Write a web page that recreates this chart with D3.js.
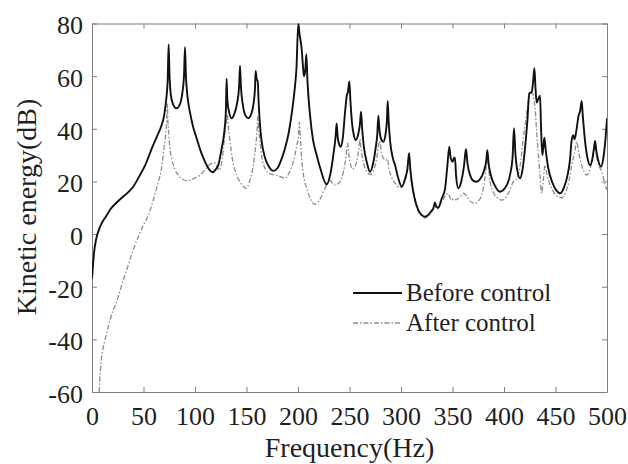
<!DOCTYPE html>
<html><head><meta charset="utf-8">
<script src="https://cdn.jsdelivr.net/npm/d3@7"></script>
<style>body{margin:0;background:#fff}svg{display:block}text{font-family:"Liberation Serif","Times New Roman",serif;fill:#1f1f1f}</style>
</head><body><svg id="c" width="628" height="464"></svg>
<script>
const xTicks=[0,50,100,150,200,250,300,350,400,450,500];
const yTicks=[-60,-40,-20,0,20,40,60,80];
const seriesNames=["Before control","After control"];
const beforeF=[0,2,4,7,10,14,18,24,30,36,40,46,52,58,63,67.6,70,72,73.5,74.4,75.3,76.5,78.5,82,85.5,87.5,89.3,90.3,91.2,92.5,95,98,101.6,105.5,109.7,113,117.2,120,122.6,125.9,128.5,130,130.7,131.4,133,135.6,138,141,142.8,143.7,144.6,146.5,149,151.8,154.5,157,158.2,158.9,159.8,160.9,161.8,163,164.8,168,172,176,180,184,187.4,191,194,196.5,198.5,200.3,201.5,203.5,205.2,205.8,207,208.1,209.2,211.7,214.5,218.1,222,227.8,231.5,234.3,236.5,237.5,238.5,240,241.7,243.5,245.6,247.5,248.5,249.8,251,252.5,254,256,258.5,260.2,261.2,262.3,264,267,269.9,273,275.5,277,278,279,280.8,282.8,285,286.3,287.1,288,289.5,292,294.2,297.5,300.7,304,306.3,307.8,309,310.4,313,316.8,320,323.3,327,330,331.4,333,334.2,336.2,339.5,342.7,344.8,346.9,348.2,350.2,351.5,352.4,353.5,355.6,358.5,361.2,363.1,364.5,367,370,373.5,377,380.5,382.8,383.8,385,387.5,391,396.1,401,405.8,408.3,409.7,411,413,415.5,418,420.4,422.5,424.6,426.9,428.3,429.5,430.5,431.7,433,435,436,437.2,438.2,439.2,440.5,443,447,451,454.4,458,461.5,464,465.7,467.3,468.5,470.5,472.2,474,475.4,476.5,478.5,481,483.5,486,487.5,488.4,489.5,491.5,494.2,496.5,498.5,500];
const beforeV=[-17,-7,-2,2,4.5,7,9.5,12,14.2,16.2,18,22,26.5,32.5,37,41.4,45,51,59,72,60,53,49.5,47.8,49.5,53,60,71,60,53,46.5,41,36.4,31.5,27.5,25,23.5,24.5,26.2,32.6,39,47,59,51,46.5,44,45.5,50,56,64,56,49,45,44,45.5,50,55,62,59,58,50,42,35,29,25.5,24,25,28.5,32.6,38.5,46,54,63,80,76,70.6,62,60,62,68.3,58,45.2,36,30,24.5,18.9,23,30,37,42,37,34,33.2,36.5,46,53,54,58,50,42,38,35.7,38,42,46.5,40,33,27,23.7,27,33,38,45,40,36,35.1,38,43,50.6,43,35,29,26.2,21,18,21,25,30.7,25,19.9,14,9.1,7.3,6.6,7.5,9,9.8,12,10.5,10,13.5,17,25,33.2,29,27.5,29,29,22,17.4,20,26,32.3,27,22.5,20.3,19.9,21,24,28,31.9,27,22,18.5,16.1,17.5,22.4,29,40.2,31,24,21.2,24.5,32.6,42,53.5,54,58,63,56,50,51,52.6,40,30,33,36.6,32,25,19.5,16.5,15.5,17.5,22,28,35.7,37.6,36,40,44.6,47,50.6,45,36,29,26.2,29,33,35.4,32,28,25.6,29,36,44];
const afterF=[7,7.5,9,11,14.2,18,24,30,35,40,45,50,54.7,59.5,64.4,67.5,69.9,71.5,72.5,73.1,73.8,74.4,75.5,77.3,80,83.8,88,91.9,96,100,104.9,110,114.6,117,119.4,121.5,123.6,125.5,127.5,129.1,130.5,131.4,132.3,134,136.5,140.5,145,149.5,153,156.6,159,160.2,160.9,161.8,163.1,165,168,172,177.7,183,187.4,191,195.5,198.5,200.5,201.3,202.2,203.5,205.5,208.4,212,216.5,221,226.2,229,231.1,233,235.9,238.5,240.8,244,246.5,248.2,249.5,251,252.7,255,257.5,259.2,260.2,261.3,263.5,266.5,269.9,273.5,276.5,278.5,279.6,280.8,282.8,285,287,288.3,291,295,299,302,305,307.8,309,310.5,313,317,320,323.3,327,330,333,334.5,337,340,343,345.5,347,349,351,353,355.5,358.9,361,363.5,366,369,371.8,375,378.5,381,383,383.8,384.8,386.5,389.5,393,397.8,402,406,409,411,413,416,418.7,421.5,423.5,425.2,427.8,429,430.1,431.5,433.4,435,436.6,438,439.8,441.5,443.5,446.3,451,456,460,463,465.7,468.5,470.6,472.5,475.4,478,480.3,483,485.5,487.7,489.5,492,494.9,497,499.7];
const afterV=[-60,-56,-48,-43,-37.7,-32,-25.5,-18,-12,-6,-1,3.5,7.2,13,19.9,25,32.6,38,43,49.7,42,38.9,33,28.8,25,22.4,20.8,20.3,20.6,21.3,22.4,24.5,26.5,27,27,25.5,24.3,26.5,32,38.9,43,45.5,41,35.1,28,22.4,19,17.4,20,26.2,34,39,44.6,40,35.1,29,25,23,22.4,21.8,21.2,23,27.5,33,38,42.5,37,28.8,22,17.4,13.5,11.3,13,17.4,19.5,20.5,19.5,18.6,19,19.9,23.5,29,34.5,30,26.5,24.7,25.5,28.5,33,36.1,32,27,24,22.7,24.5,29,34.5,35.4,31,29,28,28.5,25,21.5,19,17.6,18.5,22,29,24,18.5,13.5,8.5,6.8,6.2,7,8.5,10.5,9.5,10.5,12.5,14.5,15.5,14.5,12.8,13.5,13,13.5,14.8,15.5,14.5,13,12,11.7,12.5,15,20,27,30,26,20,16,14,12.9,14,17,19.9,20.5,21.5,27,36.4,44,50,52.8,53.6,51,48.4,40,30,22,15.5,20,26.2,23,20,17.4,14.5,13.8,16,20,26.2,31,35.1,31,26.2,23.5,22.4,24,28,33.2,30,26,23.7,20.5,16.7];

const svg=d3.select("#c");
const L=92,R=607,T=23.5,B=392;
const x=d3.scaleLinear().domain([0,500]).range([L,R]);
const y=d3.scaleLinear().domain([-60,80]).range([B,T]);
const axisCol="#7f7f7f";
const fmt=d=>String(d);

svg.append("clipPath").attr("id","clip").append("rect").attr("x",L).attr("y",T).attr("width",R-L).attr("height",B-T);

const g=svg.append("g");
const ax=(sel,axis)=>{sel.call(axis);sel.select(".domain").attr("stroke",axisCol);sel.selectAll(".tick line").attr("stroke",axisCol);};
const xb=g.append("g").attr("transform",`translate(0,${B})`);
ax(xb,d3.axisBottom(x).tickValues(xTicks).tickSizeInner(-5).tickSizeOuter(0).tickPadding(15).tickFormat(fmt));
const xt=g.append("g").attr("transform",`translate(0,${T})`);
ax(xt,d3.axisTop(x).tickValues(xTicks).tickSizeInner(-5).tickSizeOuter(0).tickFormat(""));
const yl=g.append("g").attr("transform",`translate(${L},0)`);
ax(yl,d3.axisLeft(y).tickValues(yTicks).tickSizeInner(-5).tickSizeOuter(0).tickPadding(9).tickFormat(fmt));
const yr=g.append("g").attr("transform",`translate(${R},0)`);
ax(yr,d3.axisRight(y).tickValues(yTicks).tickSizeInner(-5).tickSizeOuter(0).tickFormat(""));
g.selectAll(".tick text").attr("font-size",26).attr("fill","#1f1f1f").attr("font-family","Liberation Serif");
yl.selectAll(".tick text").attr("dy","0.4em");

const line=d3.line().curve(d3.curveMonotoneX).x(d=>x(d[0])).y(d=>y(d[1]));
const before=beforeF.map((f,i)=>[f,beforeV[i]]);
const after=afterF.map((f,i)=>[f,afterV[i]]);
const pg=svg.append("g").attr("clip-path","url(#clip)");
pg.append("path").datum(after).attr("d",line).attr("fill","none").attr("stroke","#8c8c8c").attr("stroke-width",1.3).attr("stroke-dasharray","5,2,1.5,2");
pg.append("path").datum(before).attr("d",line).attr("fill","none").attr("stroke","#111").attr("stroke-width",1.9);

const lg=svg.append("g");
[[seriesNames[0],293,"#111",1.9,null],[seriesNames[1],323,"#8c8c8c",1.3,"5,2,1.5,2"]].forEach(([n,yy,c,w,da])=>{
  lg.append("line").attr("x1",353).attr("x2",402).attr("y1",yy).attr("y2",yy).attr("stroke",c).attr("stroke-width",w).attr("stroke-dasharray",da);
  lg.append("text").attr("x",406).attr("y",yy+8).attr("font-size",25).text(n);
});

svg.append("text").attr("x",(L+R)/2).attr("y",457).attr("text-anchor","middle").attr("font-size",28).text("Frequency(Hz)");
svg.append("text").attr("transform","translate(36,207) rotate(-90)").attr("text-anchor","middle").attr("font-size",28).text("Kinetic energy(dB)");
</script></body></html>
